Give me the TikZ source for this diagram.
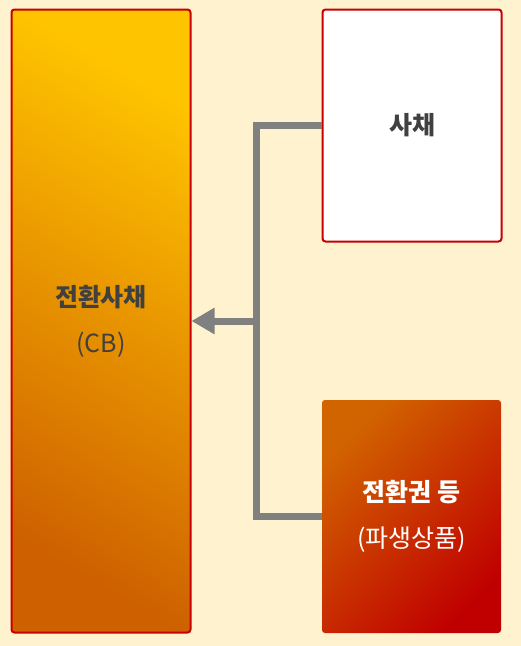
\documentclass[tikz,border=0pt]{standalone}
\usepackage{fontspec}
\setmainfont{Noto Sans CJK KR}
\usetikzlibrary{arrows.meta}
\definecolor{bg}{RGB}{255,242,206}
\definecolor{redline}{RGB}{200,0,0}
\definecolor{goldA}{RGB}{255,196,0}
\definecolor{goldM}{RGB}{242,168,0}
\definecolor{goldB}{RGB}{206,96,0}
\definecolor{rustA}{RGB}{210,100,0}
\definecolor{rustB}{RGB}{192,0,0}
\definecolor{txt}{RGB}{64,64,64}
\definecolor{conncol}{RGB}{128,128,128}
\tikzset{
  box/.style={rectangle, rounded corners=3pt, inner sep=0pt, align=center, font=\fontsize{25}{46}\selectfont},
  conn/.style={draw=conncol, line width=7pt},
}
\begin{document}
\begin{tikzpicture}[x=1pt,y=1pt]
\fill[bg] (0,0) rectangle (521,-646);
\useasboundingbox (0,0) rectangle (521,-646);
\node[box, draw=redline, line width=2pt, minimum width=179pt, minimum height=623pt,
      top color=goldA, middle color=goldM, bottom color=goldB, shading angle=-30, text=txt] (cb) at (101,-321)
  {\textbf{전환사채}\\(CB)};
\node[box, draw=redline, line width=2pt, fill=white, minimum width=179pt, minimum height=232pt, text=txt] (sachae) at (412,-125.5)
  {\textbf{사채}};
\node[box, minimum width=179pt, minimum height=233pt,
      left color=rustA, right color=rustB, shading angle=45, text=white] (deriv) at (411.5,-516.5)
  {\textbf{전환권 등}\\(파생상품)};
\coordinate (jn) at (256,-321);
\draw[conn] (sachae.west) -| (jn) |- (deriv.west);
\draw[conn, -{Triangle[length=23pt,width=25pt]}] (jn) -- (cb.east);
\end{tikzpicture}
\end{document}
